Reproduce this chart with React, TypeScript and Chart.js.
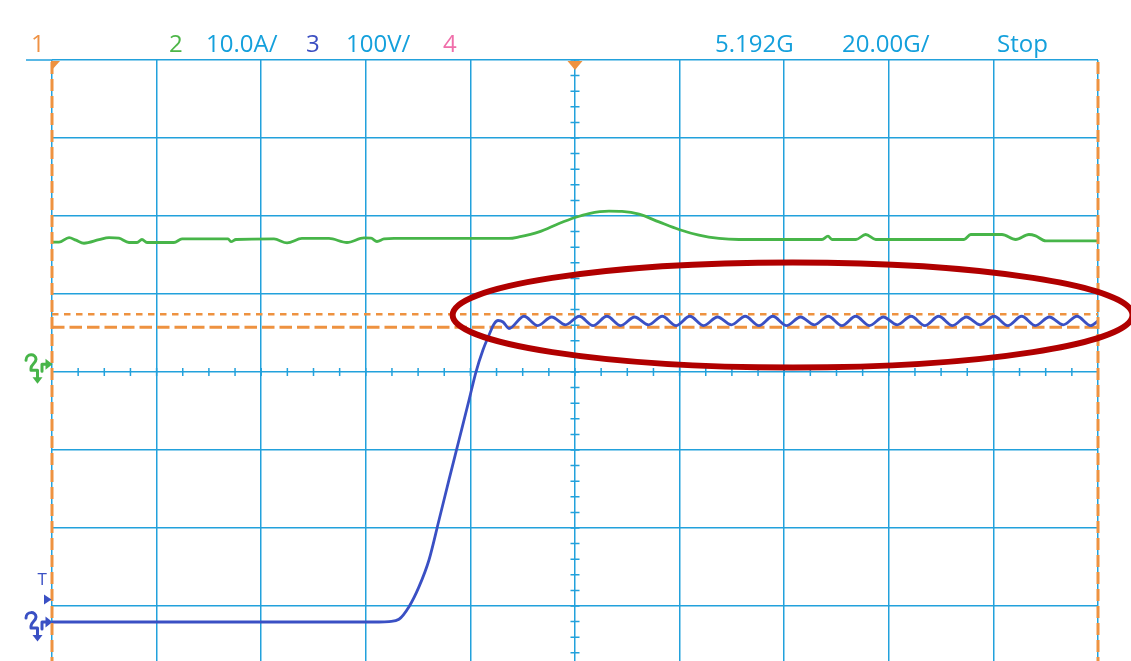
import React, { useEffect, useRef } from "react";
import { Chart, registerables } from "chart.js";

Chart.register(...registerables);

// ---- channel settings (screen divisions) ----
const ch3GroundDiv = -3.205; // blue (voltage) ground level
const ch3VoltsPerDiv = 100;
const ch2GroundDiv = 0.1; // green (current) ground level
const ch2AmpsPerDiv = 10;

// ---- time axis (divisions, 0 = trigger) ----
const timeGrid = [-5, -4, -3, -2, -1, 0, 1, 2, 3, 4, 5];
const levelGrid = [-3, -2, -1, 0, 1, 2, 3, 4];

// ---- channel 3 : voltage (V) ----
const blueTime = [
  -5.0, -1.874, -1.778, -1.683, -1.587, -1.491, -1.396, -1.3, -1.205, -1.109, -1.013, -0.947,
  -0.88, -0.822, -0.774, -0.736, -0.688, -0.631,
  -0.488, -0.356, -0.223, -0.091, 0.041, 0.173, 0.305, 0.437, 0.57, 0.702, 0.834, 0.966,
  1.098, 1.23, 1.363, 1.495, 1.627, 1.759, 1.891, 2.023, 2.156, 2.288, 2.42, 2.552,
  2.684, 2.816, 2.948, 3.08, 3.213, 3.345, 3.477, 3.609, 3.741, 3.873, 4.006, 4.138,
  4.27, 4.402, 4.535, 4.667, 4.799, 4.931, 5.0,
];
const blueVolts = [
  0, 0, 0.6, 3.5, 19.6, 45.3, 79.5, 130.8, 182.1, 233.3, 284.6, 320.5,
  348.7, 367.9, 382.1, 386.5, 384.6, 376.3,
  392, 380, 391, 381, 392, 380, 392, 380, 391, 381, 392, 380,
  392, 380, 391, 381, 392, 380, 392, 380, 391, 381, 392, 380,
  392, 380, 391, 381, 392, 380, 392, 380, 391, 381, 392, 380,
  392, 380, 391, 381, 392, 380, 386,
];

// ---- channel 2 : current (A) ----
const greenTime = [
  -5.0, -4.933, -4.837, -4.771, -4.694, -4.551, -4.455, -4.36, -4.264, -4.187, -4.14, -4.092,
  -3.834, -3.757, -3.317, -3.289, -3.241, -2.878, -2.753, -2.61, -2.352, -2.18, -2.017, -1.95,
  -1.893, -1.826, -1.73, -0.631, -0.535, -0.344, -0.153, 0.0, 0.134, 0.325, 0.449, 0.612,
  0.803, 0.994, 1.185, 1.377, 1.568, 2.361, 2.419, 2.457, 2.686, 2.779, 2.875, 3.719,
  3.783, 4.082, 4.213, 4.34, 4.404, 4.5, 5.0,
];
const greenAmps = [
  15.64, 15.64, 16.22, 15.9, 15.51, 15.96, 16.24, 16.15, 15.6, 15.6, 15.99, 15.6,
  15.6, 16.06, 16.06, 15.71, 15.99, 16.06, 15.55, 16.12, 16.12, 15.6, 16.19, 16.15,
  15.73, 16.06, 16.12, 16.12, 16.32, 16.96, 18.04, 18.81, 19.32, 19.62, 19.58, 19.23,
  18.24, 17.27, 16.54, 16.12, 15.99, 15.99, 16.41, 15.99, 15.99, 16.63, 15.99, 15.99,
  16.63, 16.63, 15.99, 16.63, 16.45, 15.81, 15.81,
];

// ---- cursors (divisions) ----
const cursorLevels = [0.74, 0.573];
const cursorTimes = [-5, 5];

// ---- highlight ellipse (divisions) ----
const ellipseCenter = [2.08, 0.731];
const ellipseRadii = [3.25, 0.673];

// ---- header labels ----
const headerLabels = ["1", "2", "10.0A/", "3", "100V/", "4", "5.192G", "20.00G/", "Stop"];
const headerX = [31, 169, 206, 306, 346, 443, 715, 842, 997];
const headerColors = ["#EF9244", "#4DB648", "#14A0DC", "#3C4FC2", "#14A0DC", "#F06EAA", "#14A0DC", "#14A0DC", "#14A0DC"];

const GRID = "#22a1dc";
const ORANGE = "#EE9240";
const GREEN = "#47B549";
const BLUE = "#3A50C4";
const RED = "#B00000";

function drawGroundIcon(ctx: CanvasRenderingContext2D, y0: number, color: string) {
  ctx.save();
  ctx.strokeStyle = color;
  ctx.fillStyle = color;
  ctx.lineWidth = 3;
  ctx.lineCap = "round";
  ctx.lineJoin = "round";
  // squiggle + stem down
  ctx.beginPath();
  ctx.moveTo(26, y0 - 4);
  ctx.bezierCurveTo(26, y0 - 11, 36, y0 - 11, 36, y0 - 5);
  ctx.bezierCurveTo(36, y0 - 1, 31, y0, 31, y0 + 4);
  ctx.lineTo(31, y0 + 6);
  ctx.lineTo(37.5, y0 + 6);
  ctx.lineTo(37.5, y0 + 14);
  ctx.stroke();
  ctx.beginPath();
  ctx.moveTo(32.5, y0 + 13);
  ctx.lineTo(42.5, y0 + 13);
  ctx.lineTo(37.5, y0 + 19.5);
  ctx.closePath();
  ctx.fill();
  // right arrow
  ctx.beginPath();
  ctx.moveTo(42, y0 + 7);
  ctx.lineTo(42, y0);
  ctx.lineTo(47, y0);
  ctx.stroke();
  ctx.beginPath();
  ctx.moveTo(45.5, y0 - 5.5);
  ctx.lineTo(52.5, y0);
  ctx.lineTo(45.5, y0 + 5.5);
  ctx.closePath();
  ctx.fill();
  ctx.restore();
}

const scopeDecor = {
  id: "scopeDecor",
  beforeDatasetsDraw(chart: any) {
    const { ctx, chartArea: ca, scales } = chart;
    const x = scales.x;
    const y = scales.y;
    ctx.save();
    // top border extension
    ctx.strokeStyle = GRID;
    ctx.lineWidth = 1.5;
    ctx.beginPath();
    ctx.moveTo(26, ca.top);
    ctx.lineTo(ca.left, ca.top);
    ctx.stroke();
    // crosshair minor ticks
    const y0 = y.getPixelForValue(0);
    const x0 = x.getPixelForValue(0);
    ctx.beginPath();
    for (let i = -20; i <= 20; i++) {
      const px = x.getPixelForValue(i / 4);
      ctx.moveTo(px, y0 - 4);
      ctx.lineTo(px, y0 + 4);
    }
    for (let i = -19; i <= 20; i++) {
      const py = y.getPixelForValue(i / 5);
      ctx.moveTo(x0 - 4.5, py);
      ctx.lineTo(x0 + 4.5, py);
    }
    ctx.stroke();
    // horizontal cursors
    ctx.strokeStyle = ORANGE;
    ctx.lineWidth = 2.6;
    ctx.setLineDash([6.5, 5.5]);
    let py = y.getPixelForValue(cursorLevels[0]);
    ctx.beginPath();
    ctx.moveTo(ca.left, py);
    ctx.lineTo(ca.right, py);
    ctx.stroke();
    ctx.lineWidth = 3;
    ctx.setLineDash([12.5, 5]);
    py = y.getPixelForValue(cursorLevels[1]);
    ctx.beginPath();
    ctx.moveTo(ca.left, py);
    ctx.lineTo(ca.right, py);
    ctx.stroke();
    ctx.restore();
  },
  afterDatasetsDraw(chart: any) {
    const { ctx, chartArea: ca, scales } = chart;
    const x = scales.x;
    const y = scales.y;
    ctx.save();
    // vertical cursors
    ctx.strokeStyle = ORANGE;
    ctx.lineWidth = 3;
    ctx.setLineDash([12, 5]);
    for (const t of cursorTimes) {
      const px = x.getPixelForValue(t);
      ctx.beginPath();
      ctx.moveTo(px, ca.top + 2);
      ctx.lineTo(px, ca.bottom);
      ctx.stroke();
    }
    ctx.setLineDash([]);
    // trigger position markers
    ctx.fillStyle = ORANGE;
    const xc = x.getPixelForValue(0);
    ctx.beginPath();
    ctx.moveTo(xc - 7.5, ca.top + 1);
    ctx.lineTo(xc + 7.5, ca.top + 1);
    ctx.lineTo(xc, ca.top + 10);
    ctx.closePath();
    ctx.fill();
    ctx.beginPath();
    ctx.moveTo(ca.left - 1, ca.top + 1);
    ctx.lineTo(ca.left + 8, ca.top + 1);
    ctx.lineTo(ca.left - 1, ca.top + 11);
    ctx.closePath();
    ctx.fill();
    // ground icons
    drawGroundIcon(ctx, y.getPixelForValue(ch2GroundDiv), GREEN);
    drawGroundIcon(ctx, y.getPixelForValue(ch3GroundDiv), BLUE);
    // trigger level "T" + arrow
    ctx.fillStyle = BLUE;
    ctx.font = '17px "Open Sans"';
    ctx.textBaseline = "alphabetic";
    ctx.textAlign = "left";
    ctx.fillText("T", 37.5, 585);
    ctx.beginPath();
    ctx.moveTo(44, 594.5);
    ctx.lineTo(51.5, 599.5);
    ctx.lineTo(44, 604.5);
    ctx.closePath();
    ctx.fill();
    // highlight ellipse
    const cx = x.getPixelForValue(ellipseCenter[0]);
    const cy = y.getPixelForValue(ellipseCenter[1]);
    const rx = x.getPixelForValue(ellipseCenter[0] + ellipseRadii[0]) - cx;
    const ry = cy - y.getPixelForValue(ellipseCenter[1] + ellipseRadii[1]);
    ctx.strokeStyle = RED;
    ctx.lineWidth = 6;
    ctx.beginPath();
    ctx.ellipse(cx, cy, rx, ry, 0, 0, Math.PI * 2);
    ctx.stroke();
    // header
    ctx.font = '24px "Open Sans"';
    for (let i = 0; i < headerLabels.length; i++) {
      ctx.fillStyle = headerColors[i];
      ctx.fillText(headerLabels[i], headerX[i], 52);
    }
    ctx.restore();
  },
};

export default function App() {
  const canvasRef = useRef<HTMLCanvasElement | null>(null);

  useEffect(() => {
    const canvas = canvasRef.current;
    if (!canvas) return;
    const blueData = blueTime.map((t, i) => ({ x: t, y: ch3GroundDiv + blueVolts[i] / ch3VoltsPerDiv }));
    const greenData = greenTime.map((t, i) => ({ x: t, y: ch2GroundDiv + greenAmps[i] / ch2AmpsPerDiv }));
    const chart = new Chart(canvas, {
      type: "line",
      data: {
        datasets: [
          {
            label: "CH2 current",
            data: greenData,
            borderColor: GREEN,
            borderWidth: 2.8,
            pointRadius: 0,
            cubicInterpolationMode: "monotone",
            fill: false,
          },
          {
            label: "CH3 voltage",
            data: blueData,
            borderColor: BLUE,
            borderWidth: 2.8,
            pointRadius: 0,
            cubicInterpolationMode: "monotone",
            fill: false,
          },
        ],
      },
      options: {
        responsive: false,
        maintainAspectRatio: false,
        animation: false,
        devicePixelRatio: 1,
        events: [],
        layout: { padding: { left: 52, right: 33, top: 60, bottom: 0 } },
        plugins: { legend: { display: false }, tooltip: { enabled: false }, title: { display: false } },
        scales: {
          x: {
            type: "linear",
            min: -5,
            max: 5,
            afterBuildTicks: (axis: any) => {
              axis.ticks = timeGrid.map((v) => ({ value: v }));
            },
            ticks: { display: false },
            grid: { color: GRID, lineWidth: 1.5, drawTicks: false },
            border: { display: false },
          },
          y: {
            type: "linear",
            min: -3.705,
            max: 4,
            afterBuildTicks: (axis: any) => {
              axis.ticks = levelGrid.map((v) => ({ value: v }));
            },
            ticks: { display: false },
            grid: { color: GRID, lineWidth: 1.5, drawTicks: false },
            border: { display: false },
          },
        },
      },
      plugins: [scopeDecor],
    } as any);
    return () => chart.destroy();
  }, []);

  return (
    <div style={{ position: "absolute", left: 0, top: 0, width: 1131, height: 661, background: "#fff" }}>
      <canvas ref={canvasRef} width={1131} height={661} style={{ display: "block" }} />
    </div>
  );
}
